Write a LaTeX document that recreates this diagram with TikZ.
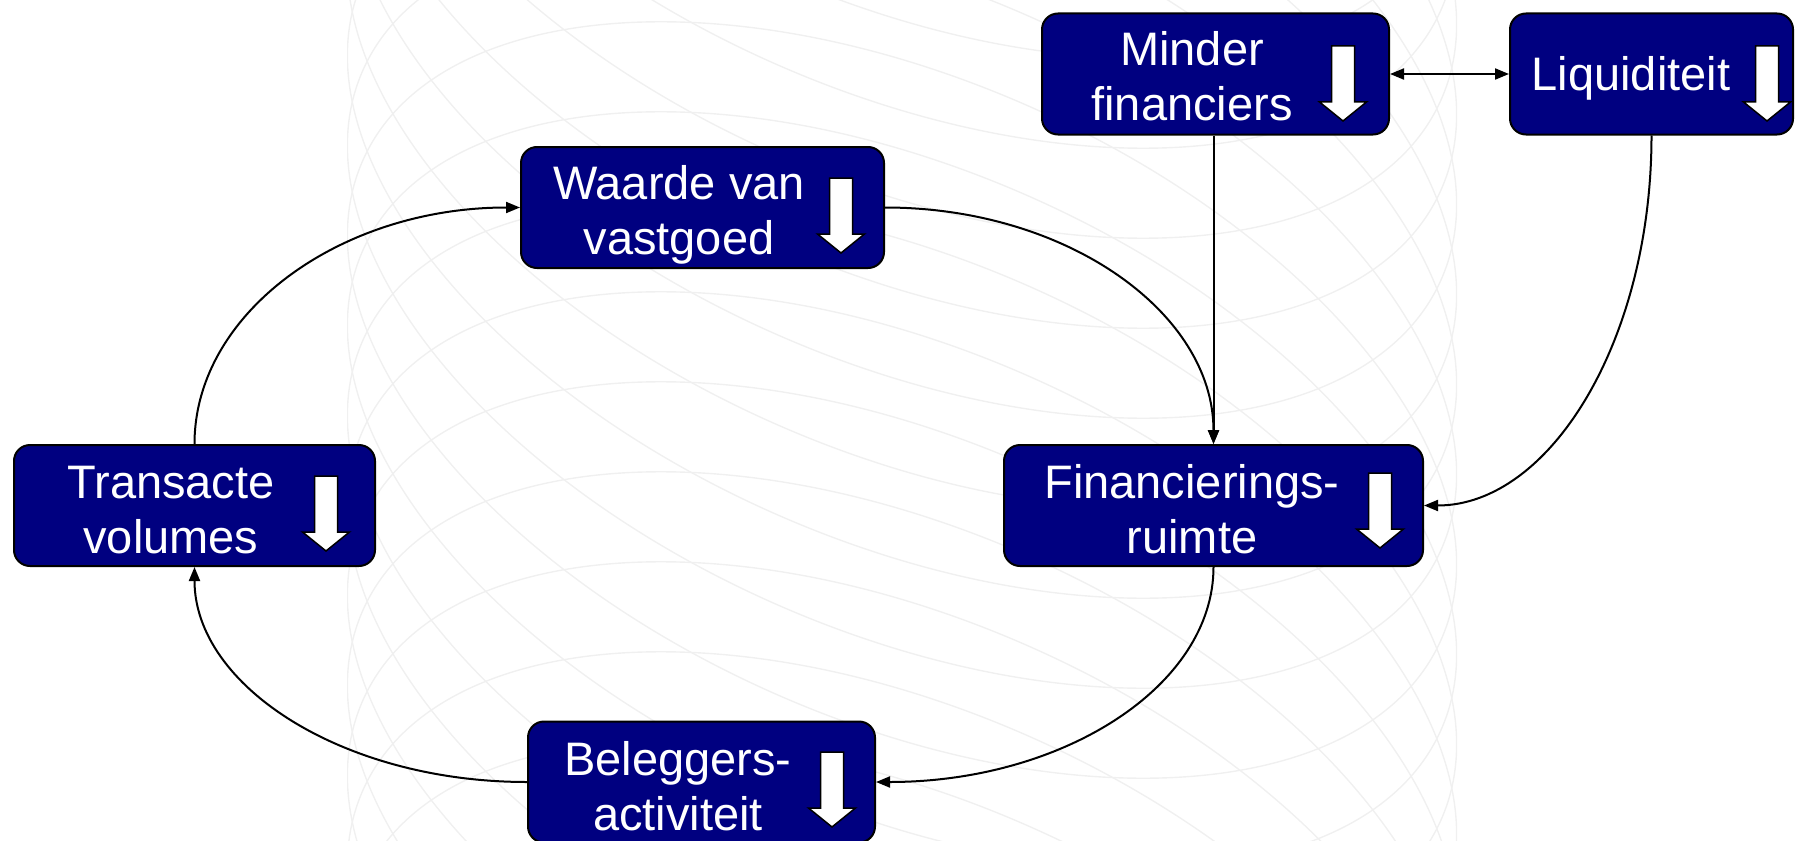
\documentclass[tikz,border=0pt]{standalone}
\usepackage{fontspec}
\setmainfont{Liberation Sans}
\usetikzlibrary{arrows.meta}
\definecolor{boxnavy}{RGB}{0,0,128}
\definecolor{bgline}{RGB}{240,240,240}
\tikzset{
  box/.style={draw=black, line width=2pt, fill=boxnavy, rounded corners=16pt,
    minimum width=#1, minimum height=121pt, inner sep=0pt},
  lbl/.style={text=white, anchor=base, inner sep=0pt, font=\fontsize{47}{55}\selectfont},
  tip/.tip={Triangle[length=14pt,width=11pt]},
  conn/.style={line width=2pt, -tip},
  whitearrow/.style={fill=white, draw=black, line width=1.5pt, line join=miter},
  bgl/.style={draw=bgline, line width=1.4pt},
}
\newcommand\dnarr[2]{%
  \draw[whitearrow] (#1,#2) ++(-11.5,0) -- ++(23,0) -- ++(0,56) -- ++(12,0)
    -- ++(-23.5,19) -- ++(-23.5,-19) -- ++(12,0) -- cycle;}
\begin{document}
\begin{tikzpicture}[x=1pt,y=-1pt]
\useasboundingbox (0,0) rectangle (1795,840);
% faint background pattern
\begin{scope}
  \clip (347,0) rectangle (1457,840);
  \foreach \k in {-5,...,13}
    \draw[bgl, rotate around={-24:(902,{40+90*\k})}] (902,{40+90*\k}) ellipse [x radius=590, y radius=320];
\end{scope}
% boxes
\node[box=347pt] (mf) at (1215.5,74) {};
\node[box=283pt] (lq) at (1651.5,74) {};
\node[box=363pt] (wv) at (702.5,207.5) {};
\node[box=361pt] (tv) at (194.5,505.5) {};
\node[box=419pt] (fr) at (1213.5,505.5) {};
\node[box=347pt] (ba) at (701.5,782) {};
% texts
\node[lbl] (mft1) at (1192,66) {Minder};
\node[lbl] (mft2) at (1192,121) {financiers};
\node[lbl] (lqt) at (1631,91) {Liquiditeit};
\node[lbl] (wvt1) at (679,199) {Waarde van};
\node[lbl] (wvt2) at (679,254) {vastgoed};
\node[lbl] (tvt1) at (171,498) {Transacte};
\node[lbl] (tvt2) at (171,553) {volumes};
\node[lbl] (frt1) at (1192,498) {Financierings-};
\node[lbl] (frt2) at (1192,553) {ruimte};
\node[lbl] (bat1) at (678,775) {Beleggers-};
\node[lbl] (bat2) at (678,830) {activiteit};
% down arrows
\dnarr{1343}{46}
\dnarr{1767}{46}
\dnarr{841}{178}
\dnarr{326}{476}
\dnarr{1380}{473}
\dnarr{832}{752}
% connectors
\draw[conn, tip-tip] (mf.east) -- (lq.west);
\draw[conn] (fr.north |- mf.south) -- (fr.north);
\draw[conn] (wv.east) .. controls +(182,0) and +(0,-131) .. (fr.north);
\draw[conn] (lq.south) .. controls +(0,205) and +(126,0) .. (fr.east);
\draw[conn] (fr.south) .. controls +(0,119) and +(187,0) .. (ba.east);
\draw[conn] (ba.west) .. controls +(-184,0) and +(0,119) .. (tv.south);
\draw[conn] (tv.north) .. controls +(0,-131) and +(-180,0) .. (wv.west);
\end{tikzpicture}
\end{document}
